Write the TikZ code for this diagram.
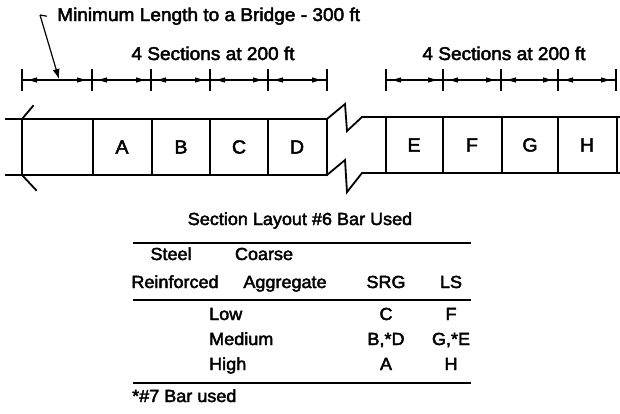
\documentclass[tikz,border=0pt]{standalone}
\usepackage{fontspec}
\setmainfont{Liberation Sans}[FakeStretch=1.03, FakeBold=2.5]
\usetikzlibrary{arrows.meta, positioning}

\begin{document}
\begin{tikzpicture}[
    x=1pt, y=-1pt,
    every node/.style={font=\fontsize{17.5}{20}\selectfont, inner sep=0pt},
    txt/.style={anchor=base},
    big/.style={font=\fontsize{18.5}{22}\selectfont},
    letter/.style={font=\fontsize{19}{22}\selectfont},
    dimline/.style={line width=1.2pt},
    dimtip/.style={{Latex[length=11pt,width=5.5pt]}-{Latex[length=11pt,width=5.5pt]}, line width=1.2pt, shorten <=4pt, shorten >=4pt},
    tick/.style={line width=1.1pt},
    wall/.style={line width=1.8pt, line join=miter, line cap=rect},
    rule/.style={line width=2pt}
]
    \useasboundingbox (0,0) rectangle (620,413);

    % dimensions
    \node (title) [big, anchor=base west] at (57,21) {Minimum Length to a Bridge - 300 ft};
    \node (spanleft) [big, txt] at (213,60) {4 Sections at 200 ft};
    \node (spanright) [big, txt] at (504,60) {4 Sections at 200 ft};

    \foreach \x [count=\i] in {22,92,151,210,268,327}
        \coordinate (l\i) at (\x,80);
    \foreach \x [count=\i] in {386,443,501,558,616}
        \coordinate (r\i) at (\x,80);

    \draw[dimline] (l1) -- (l6);
    \draw[dimline] (r1) -- (r5);
    \foreach \i in {1,...,6}
        \draw[tick] ([yshift=11pt]l\i) -- ([yshift=-11pt]l\i);
    \foreach \i in {1,...,5}
        \draw[tick] ([yshift=11pt]r\i) -- ([yshift=-11pt]r\i);
    \foreach \a/\b in {1/2,2/3,3/4,4/5,5/6}
        \draw[dimtip] (l\a) -- (l\b);
    \foreach \a/\b in {1/2,2/3,3/4,4/5}
        \draw[dimtip] (r\a) -- (r\b);

    % leader to the first mark
    \coordinate (bend) at (40,15);
    \coordinate (tip) at (59,79);
    \draw[line width=1.2pt] (title.west) ++(-10,0) -- (bend);
    \draw[line width=1.2pt, -{Latex[length=10pt,width=7pt]}] (bend) -- (tip);

    % sections, left of the break
    \draw[wall] (6,119) -- (327,119);
    \draw[wall] (6,175) -- (327,175);
    \foreach \x in {22,93,152,210,268,327}
        \draw[wall] (\x,119) -- (\x,175);
    \draw[wall] (22,119) -- (33,106);
    \draw[wall] (22,175) -- (36,190);

    % break
    \draw[wall] (327,119) -- (345,104) -- (347,131) -- (362,117) -- (620,117);
    \draw[wall] (327,175) -- (345,160) -- (347,192) -- (362,173) -- (620,173);

    % sections, right of the break
    \foreach \x in {386,443,502,558,617}
        \draw[wall] (\x,117) -- (\x,173);

    \foreach \name/\x in {A/122,B/181,C/239,D/297}
        \node (cell\name) [letter] at (\x,147) {\name};
    \foreach \name/\x in {E/414,F/472,G/530,H/587}
        \node (cell\name) [letter] at (\x,145) {\name};

    % table
    \node (caption) [txt] at (300,225) {Section Layout \#6 Bar Used};
    \draw[line width=2.4pt] (133,243) -- (471,243);
    \node (steel) [txt] at (171,260) {Steel};
    \node (coarse) [txt] at (264,260) {Coarse};
    \node (reinf) [txt] at (175,288) {Reinforced};
    \node (aggr) [txt] at (285,288) {Aggregate};
    \node (srg) [txt] at (386,288) {SRG};
    \node (ls) [txt] at (451,288) {LS};
    \draw[rule] (133,300) -- (471,300);

    \node (low) [anchor=base west] at (209,320) {Low};
    \node (medium) [anchor=base west] at (209,345) {Medium};
    \node (high) [anchor=base west] at (209,370) {High};
    \node (srglow) [txt] at (386,320) {C};
    \node (srgmed) [txt] at (386,345) {B,*D};
    \node (srghigh) [txt] at (386,370) {A};
    \node (lslow) [txt] at (451,320) {F};
    \node (lsmed) [txt] at (451,345) {G,*E};
    \node (lshigh) [txt] at (451,370) {H};
    \draw[line width=1.6pt] (133,383) -- (471,383);

    \node (note) [anchor=base west] at (132,402) {*\#7 Bar used};
\end{tikzpicture}
\end{document}
